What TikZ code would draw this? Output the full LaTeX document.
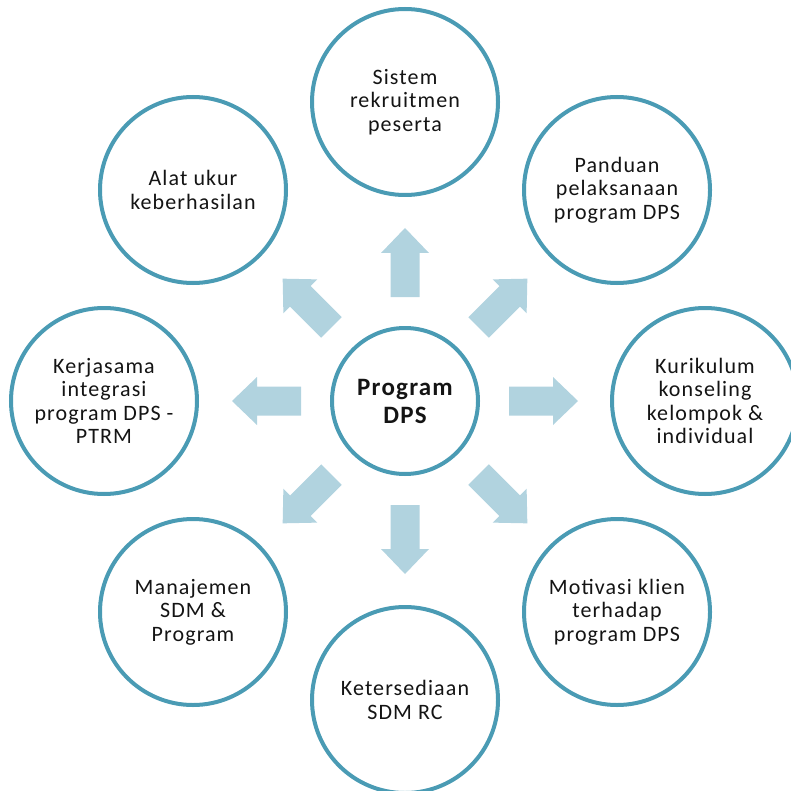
\documentclass[tikz,border=0pt]{standalone}
\usepackage{fontspec}
\setmainfont{Carlito}[LetterSpace=5]
\definecolor{ring}{HTML}{4A9BB4}
\definecolor{flow}{HTML}{B1D3DF}
\definecolor{ink}{HTML}{141414}
\begin{document}
\begin{tikzpicture}[x=1pt,y=-1pt,
  outer/.style={circle, draw=ring, line width=4pt, fill=white,
    minimum size=186pt, inner sep=0pt, align=center, text=ink,
    font=\fontsize{22}{23.5}\selectfont},
  hub/.style={circle, draw=ring, line width=4pt, fill=white,
    minimum size=146pt, inner sep=0pt, align=center, text=ink,
    font=\fontsize{25}{28}\selectfont\bfseries},
  blockarrow/.style={fill=flow, draw=none}]
\useasboundingbox (0,0) rectangle (791,791);
\clip (0,0) rectangle (791,791);

% central topic
\node[hub] (ctr) at (405,401) {Program\\DPS};

% eight surrounding topics
\node[outer] (n)  at (405,102) {Sistem\\rekruitmen\\peserta};
\node[outer] (ne) at (617,190) {Panduan\\pelaksanaan\\program DPS};
\node[outer] (e)  at (705,401) {Kurikulum\\konseling\\kelompok \&\\individual};
\node[outer] (se) at (617,612) {Motivasi klien\\terhadap\\program DPS};
\node[outer] (s)  at (405,700) {Ketersediaan\\SDM RC};
\node[outer] (sw) at (193,612) {Manajemen\\SDM \&\\Program};
\node[outer] (w)  at (104,401) {Kerjasama\\integrasi\\program DPS -\\PTRM};
\node[outer] (nw) at (193,190) {Alat ukur\\keberhasilan};

% block arrows radiating from the hub
\foreach \ang in {0,45,...,315}{
  \begin{scope}[shift={(ctr.center)}, rotate=\ang]
    \fill[blockarrow] (104,-14.5) -- (148,-14.5) -- (148,-24) -- (173,0)
      -- (148,24) -- (148,14.5) -- (104,14.5) -- cycle;
  \end{scope}
}
\end{tikzpicture}
\end{document}
